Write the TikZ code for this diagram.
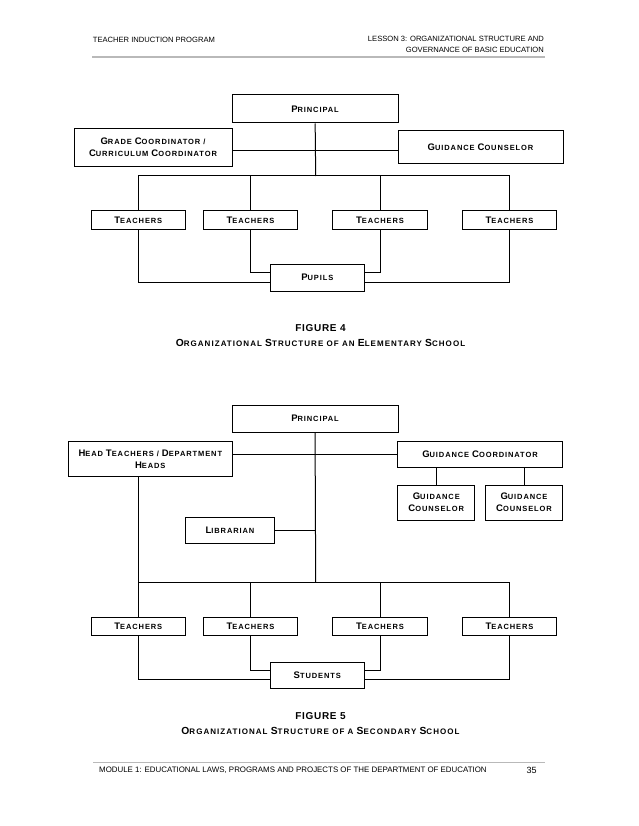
\documentclass[tikz,border=0pt]{standalone}
\usepackage{fontspec}
\setmainfont{Liberation Sans}
\newfontfamily\boxfont[LetterSpace=12]{Liberation Sans}
\newfontfamily\capfont[LetterSpace=7]{Liberation Sans}
\newfontfamily\subfont[LetterSpace=13]{Liberation Sans}
\usetikzlibrary{calc}
\newcommand{\bc}[1]{{\fontsize{9.5}{10}\selectfont #1}}
\newcommand{\cc}[1]{{\fontsize{10.3}{11}\selectfont #1}}
\tikzstyle{box} = [rectangle, draw=black, line width=1pt, inner sep=1pt, align=center, font=\boxfont\bfseries\fontsize{7.5}{12.3}\selectfont]
\tikzstyle{teacher} = [box, minimum width=94.5pt, minimum height=18.5pt]
\tikzstyle{line} = [line width=1pt]
\tikzstyle{rule} = [gray!55, line width=1.2pt]
\tikzstyle{hdr} = [font=\fontsize{7.6}{10.7}\selectfont, inner sep=0pt]
\tikzstyle{title} = [font=\capfont\bfseries\fontsize{10}{12}\selectfont, inner sep=0pt]
\tikzstyle{subtitle} = [font=\subfont\bfseries\fontsize{8}{10}\selectfont, inner sep=0pt]

\begin{document}
\begin{tikzpicture}[x=1pt, y=-1pt]
  \useasboundingbox (0,0) rectangle (638,826);
  \fill [white] (0,0) rectangle (638,826);
  % header
  \node (hleft) [hdr, anchor=west] at (92.7,40) {TEACHER INDUCTION PROGRAM};
  \node (hright) [hdr, anchor=north east, align=right] at (544,35.8) {LESSON 3: ORGANIZATIONAL STRUCTURE AND\\GOVERNANCE OF BASIC EDUCATION};
  \draw [rule] (92,57) -- (545,57);

  % figure 4
  \node (prin) [box, minimum width=166pt, minimum height=28pt] at (315,109) {\bc{P}RINCIPAL};
  \node (grade) [box, minimum width=158pt, minimum height=38pt] at (153,147.5) {\bc{G}RADE \bc{C}OORDINATOR /\\\bc{C}URRICULUM \bc{C}OORDINATOR};
  \node (couns) [box, minimum width=165pt, minimum height=33pt] at (480.5,147.5) {\bc{G}UIDANCE \bc{C}OUNSELOR};
  \foreach \x [count=\i] in {138.3,250.5,380,509.5}
    \node (t\i) [teacher] at (\x,220) {\bc{T}EACHERS};
  \node (pupils) [box, minimum width=94pt, minimum height=27pt] at (317.3,277.7) {\bc{P}UPILS};
  \coordinate (bus) at (315.7,176);
  \draw [line] (prin) -- (bus);
  \draw [line] ([yshift=-3.5pt]grade.east) -- ([yshift=-3.5pt]grade.east -| couns.west);
  \draw [line] (t1.north |- bus) -- (t4.north |- bus);
  \foreach \i in {1,...,4}
    \draw [line] (t\i.north |- bus) -- (t\i.north);
  \draw [line] (t2.south) |- ([yshift=5pt]pupils.west);
  \draw [line] (t3.south) |- ([yshift=5pt]pupils.east);
  \draw [line] (t1.south) |- ([yshift=-4.3pt]pupils.west);
  \draw [line] (t4.south) |- ([yshift=-4.3pt]pupils.east);
  \node (fig4) [title] at (320.5,327.7) {FIGURE 4};
  \node (cap4) [subtitle] at (320.5,342.7) {\cc{O}RGANIZATIONAL \cc{S}TRUCTURE OF AN \cc{E}LEMENTARY \cc{S}CHOOL};

  % figure 5
  \node (prin2) [box, minimum width=166pt, minimum height=27pt] at (315,418.7) {\bc{P}RINCIPAL};
  \node (head) [box, minimum width=164pt, minimum height=35pt] at (150.3,459.2) {\bc{H}EAD \bc{T}EACHERS / \bc{D}EPARTMENT\\\bc{H}EADS};
  \node (gcoord) [box, minimum width=164.6pt, minimum height=26pt] at (480,454.7) {\bc{G}UIDANCE \bc{C}OORDINATOR};
  \node (gc1) [box, minimum width=77.3pt, minimum height=35pt] at (436.3,502.5) {\bc{G}UIDANCE\\\bc{C}OUNSELOR};
  \node (gc2) [box, minimum width=76.6pt, minimum height=35pt] at (524,502.5) {\bc{G}UIDANCE\\\bc{C}OUNSELOR};
  \node (lib) [box, minimum width=88.6pt, minimum height=26pt] at (230,530.3) {\bc{L}IBRARIAN};
  \foreach \x [count=\i] in {138.3,250.5,380,509.5}
    \node (s\i) [teacher] at (\x,626.5) {\bc{T}EACHERS};
  \node (students) [box, minimum width=94pt, minimum height=26pt] at (317.3,675.3) {\bc{S}TUDENTS};
  \coordinate (bus2) at (315.7,582.3);
  \draw [line] (prin2) -- (bus2);
  \draw [line] (head.east |- gcoord.west) -- (gcoord.west);
  \draw [line] (gc1.north) -- (gc1.north |- gcoord.south);
  \draw [line] (gc2.north) -- (gc2.north |- gcoord.south);
  \draw [line] (lib.east) -- (lib.east -| bus2);
  \draw [line] (head.south -| s1.north) -- (s1.north);
  \draw [line] (s1.north |- bus2) -- (s4.north |- bus2);
  \foreach \i in {2,3,4}
    \draw [line] (s\i.north |- bus2) -- (s\i.north);
  \draw [line] (s2.south) |- ([yshift=5.3pt]students.west);
  \draw [line] (s3.south) |- ([yshift=5.3pt]students.east);
  \draw [line] (s1.south) |- ([yshift=-4pt]students.west);
  \draw [line] (s4.south) |- ([yshift=-4pt]students.east);
  \node (fig5) [title] at (320.5,716) {FIGURE 5};
  \node (cap5) [subtitle] at (320.5,731) {\cc{O}RGANIZATIONAL \cc{S}TRUCTURE OF A \cc{S}ECONDARY \cc{S}CHOOL};

  % footer
  \draw [rule] (93,762.3) -- (545,762.3);
  \node (foot) [hdr, font=\fontsize{7.9}{10}\selectfont, anchor=west] at (99,770) {MODULE 1: EDUCATIONAL LAWS, PROGRAMS AND PROJECTS OF THE DEPARTMENT OF EDUCATION};
  \node (page) [hdr, font=\fontsize{9}{10}\selectfont] at (531.7,770) {35};
\end{tikzpicture}
\end{document}
